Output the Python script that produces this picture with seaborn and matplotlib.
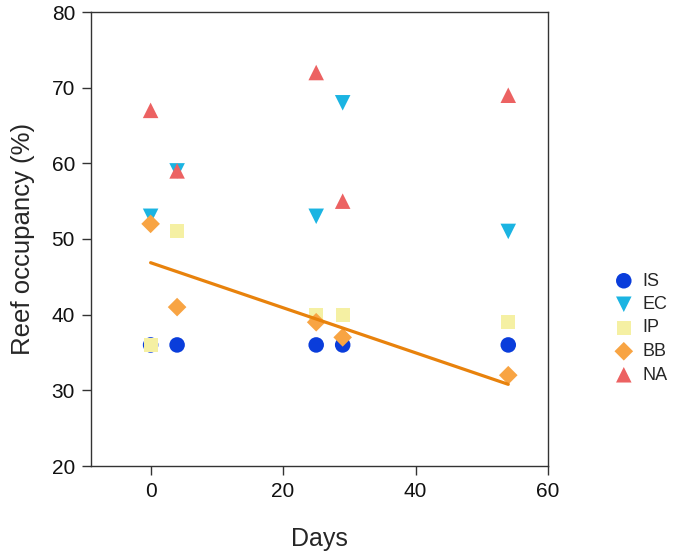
import pandas as pd
import seaborn as sns
import matplotlib.pyplot as plt

# === Data ===
days = [0, 4, 25, 29, 54]
groups = ["IS", "EC", "IP", "BB", "NA"]
is_vals = [36, 36, 36, 36, 36]
ec_vals = [53, 59, 53, 68, 51]
ip_vals = [36, 51, 40, 40, 39]
bb_vals = [52, 41, 39, 37, 32]
na_vals = [67, 59, 72, 55, 69]

colors = {"IS": "#0A3DDB", "EC": "#1BB4E2", "IP": "#F5F0A3",
          "BB": "#F8A443", "NA": "#EC6262"}
markers = {"IS": "o", "EC": "v", "IP": "s", "BB": "D", "NA": "^"}
sizes = {"IS": 125, "EC": 125, "IP": 100, "BB": 90, "NA": 125}

series = dict(zip(groups, [is_vals, ec_vals, ip_vals, bb_vals, na_vals]))
df = pd.DataFrame([
    {"Days": d, "Occupancy": v, "Group": g}
    for g in groups for d, v in zip(days, series[g])
])

sns.set_style("white")
plt.rcParams["font.family"] = ["Liberation Sans", "DejaVu Sans"]

fig = plt.figure(figsize=(6.75, 5.57), dpi=100)
ax = fig.add_axes([91 / 675, 1 - 466 / 557, 457 / 675, 454 / 557])

for g in groups:
    sub = df[df["Group"] == g]
    sns.scatterplot(data=sub, x="Days", y="Occupancy", color=colors[g],
                    marker=markers[g], s=sizes[g], edgecolor="none",
                    label=g, ax=ax, zorder=3)

# trend line for BB
sns.regplot(x=days, y=bb_vals, scatter=False, ci=None, truncate=True,
            color="#E8820C", line_kws={"lw": 2.3, "zorder": 4}, ax=ax)

ax.set_xlim(-9, 60)
ax.set_ylim(20, 80)
ax.set_xticks([0, 20, 40, 60])
ax.set_yticks(range(20, 81, 10))
ax.tick_params(axis="both", direction="out", length=6.5, width=1,
               color="#333333", labelsize=15, labelcolor="#111111", pad=5,
               bottom=True, left=True)
for sp in ax.spines.values():
    sp.set_color("#333333")
    sp.set_linewidth(1)

ax.set_xlabel("Days", fontsize=18, labelpad=19)
ax.set_ylabel("Reef occupancy (%)", fontsize=18.5, labelpad=12)

ax.legend_.remove()
handles, labels = ax.get_legend_handles_labels()
fig.legend(handles[:5], labels[:5], loc="center left",
           bbox_to_anchor=(594 / 675, 1 - 328 / 557), frameon=False,
           fontsize=13, labelspacing=0.36, handletextpad=0.3,
           handlelength=1.5)

fig.savefig("out.png", dpi=100)
